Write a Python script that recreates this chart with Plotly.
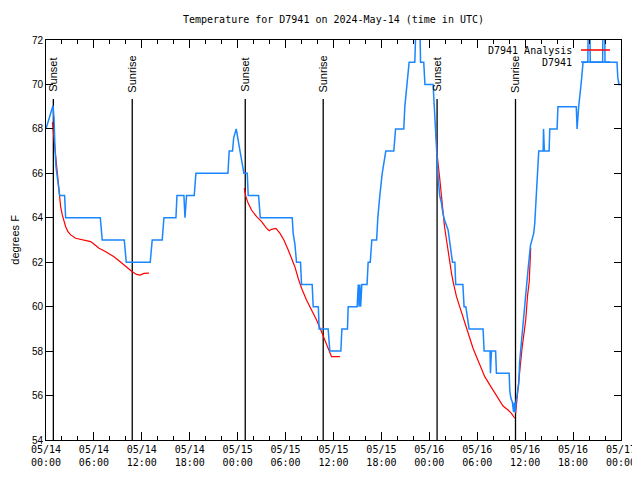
import pandas as pd
import plotly.graph_objects as go

# ---------------- data ----------------
start = pd.Timestamp("2024-05-14 00:00")

# D7941 observations: hours after start, temperature (F)
obs_hours = [0.00, 0.25, 0.50, 0.75, 0.88, 1.00, 1.03, 1.13, 1.25, 1.42, 1.58, 1.71, 2.33, 2.46,
             6.80, 7.04, 9.80, 10.05, 13.05, 13.30, 14.55, 14.77, 16.27, 16.40, 17.27, 17.40, 17.60,
             18.56, 18.77, 22.78, 22.94, 23.36, 23.50, 23.82, 24.10, 24.28, 24.45, 24.78, 25.20, 25.32,
             26.62, 26.83, 30.83, 30.95, 31.17, 31.37, 31.87, 32.00, 33.33, 33.46, 34.10, 34.20,
             35.33, 35.54, 36.92, 37.05, 37.75, 37.84, 38.96, 39.10, 39.20, 39.30, 39.40, 39.55,
             40.20, 40.34, 40.60, 40.80, 41.40, 41.55, 41.80, 42.10, 42.55, 43.55, 43.77, 44.80,
             44.93, 45.18, 45.47, 46.18, 46.35, 46.80, 46.90, 47.30, 47.45, 48.47, 48.70, 48.80,
             48.90, 49.10, 49.30, 49.50, 49.70, 49.90, 50.35, 50.50, 50.70, 50.90, 51.20, 51.30,
             52.20, 52.35, 52.57, 52.80, 52.98, 54.73, 54.86, 55.60, 55.65, 55.78, 56.30, 56.40,
             58.00, 58.07, 58.20, 58.40, 58.55, 58.65, 58.75, 58.85, 59.00, 59.20, 59.30, 59.60,
             59.80, 60.10, 60.24, 60.37, 60.66, 60.87, 61.07, 61.20, 61.33, 61.45, 61.60, 61.70,
             62.25, 62.30, 62.40, 63.00, 63.08, 64.00, 64.10, 66.40, 66.50, 66.70, 67.00, 67.25,
             67.85, 67.90, 68.10, 68.15, 69.70, 69.75, 69.95, 70.00, 71.50, 71.60, 71.75, 72.00]
obs_temps = [68.0, 68.3, 68.6, 68.9, 69.05, 68.5, 67.8, 67.1, 66.3, 65.7, 65.25, 65.0, 65.0, 64.0,
             64.0, 63.0, 63.0, 62.0, 62.0, 63.0, 63.0, 64.0, 64.0, 65.0, 65.0, 64.0, 65.0,
             65.0, 66.0, 66.0, 67.0, 67.0, 67.6, 68.0, 67.4, 67.0, 66.6, 66.0, 66.0, 65.0,
             65.0, 64.0, 64.0, 63.3, 62.8, 62.0, 62.0, 61.0, 61.0, 60.0, 60.0, 59.0,
             59.0, 58.0, 58.0, 59.0, 59.0, 60.0, 60.0, 61.0, 60.0, 61.0, 60.0, 61.0,
             61.0, 62.0, 62.0, 63.0, 63.0, 64.0, 65.0, 66.0, 67.0, 67.0, 68.0, 68.0,
             69.0, 70.0, 71.0, 71.0, 73.0, 73.0, 71.0, 71.0, 70.0, 70.0, 68.55, 67.8,
             66.75, 65.8, 65.0, 64.7, 64.2, 63.9, 63.45, 63.0, 62.5, 62.0, 62.0, 61.0,
             61.0, 60.0, 60.0, 59.3, 59.0, 59.0, 58.0, 58.0, 57.0, 58.0, 58.0, 57.0,
             57.0, 56.25, 55.9, 55.7, 55.25, 55.7, 55.25, 55.7, 56.0, 56.55, 57.5, 58.7,
             59.7, 60.6, 61.3, 61.7, 62.75, 63.0, 63.3, 63.75, 64.6, 65.2, 66.0, 67.0,
             67.0, 68.0, 67.0, 67.0, 68.0, 68.0, 69.0, 69.0, 68.0, 69.0, 70.0, 71.0,
             71.0, 73.0, 73.0, 71.0, 71.0, 73.0, 73.0, 71.0, 71.0, 70.3, 70.0, 70.0]

# D7941 Analysis: four night-time segments
ana1_hours = [0.80, 1.00, 1.20, 1.42, 1.63, 1.83, 2.04, 2.25, 2.46, 2.75, 3.09, 3.71, 4.34, 4.96,
              5.59, 6.00, 6.63, 7.26, 7.88, 8.51, 9.14, 9.76, 10.39, 10.80, 11.35, 11.76, 12.27, 12.89]
ana1_temps = [68.3, 67.5, 66.75, 65.85, 65.1, 64.5, 64.13, 63.83, 63.6, 63.38, 63.23, 63.08, 63.03, 63.0,
              62.93, 62.82, 62.63, 62.52, 62.4, 62.25, 62.07, 61.88, 61.68, 61.57, 61.45, 61.42, 61.5, 61.51]
ana2_hours = [24.82, 25.03, 25.32, 25.74, 26.37, 27.00, 27.53, 27.95, 28.25, 28.79, 29.30, 29.79, 30.33,
              30.75, 31.16, 31.58, 32.00, 32.62, 33.25, 33.88, 34.50, 35.13, 35.54, 35.75, 36.80]
ana2_temps = [65.33, 64.95, 64.65, 64.35, 64.05, 63.83, 63.57, 63.42, 63.48, 63.52, 63.3, 63.0, 62.55,
              62.18, 61.8, 61.28, 60.83, 60.3, 59.85, 59.4, 58.87, 58.27, 57.9, 57.75, 57.75]
ana3_hours = [48.85, 49.00, 49.30, 49.50, 49.70, 49.90, 50.15, 50.35, 50.56, 50.78, 50.98, 51.19, 51.40,
              51.80, 52.23, 52.65, 53.07, 53.48, 53.90, 54.32, 54.94, 55.57, 56.20, 56.82, 57.23, 57.86,
              58.28, 58.70]
ana3_temps = [67.8, 66.75, 65.78, 64.95, 64.35, 63.6, 63.0, 62.47, 61.95, 61.5, 61.12, 60.75, 60.45,
              60.0, 59.55, 59.1, 58.58, 58.12, 57.75, 57.38, 56.85, 56.48, 56.1, 55.72, 55.53, 55.35,
              55.2, 54.98]
ana4_hours = [58.80, 59.05, 59.20, 59.60, 59.80, 60.07, 60.30, 60.50, 60.70]
ana4_temps = [55.2, 56.1, 56.85, 58.1, 58.65, 59.4, 60.5, 61.1, 62.65]

# sun events (hours after start)
sun_labels = ["Sunset", "Sunrise", "Sunset", "Sunrise", "Sunset", "Sunrise"]
sun_hours = [0.92, 10.80, 24.95, 34.71, 48.97, 58.79]

y_ticks = [54, 56, 58, 60, 62, 64, 66, 68, 70, 72]
x_tick_hours = [0, 6, 12, 18, 24, 30, 36, 42, 48, 54, 60, 66, 72]

title_text = "Temperature for D7941 on 2024-May-14 (time in UTC)"
series_names = ["D7941 Analysis", "D7941"]
colors = ["#ff0000", "#1a86ff"]

# ---------------- build ----------------
def to_time(hours):
    return [None if h is None else start + pd.Timedelta(hours=h) for h in hours]

ana_h, ana_t = [], []
for hs, ts in [(ana1_hours, ana1_temps), (ana2_hours, ana2_temps),
               (ana3_hours, ana3_temps), (ana4_hours, ana4_temps)]:
    ana_h += hs + [None]
    ana_t += ts + [None]

mono = "DejaVu Sans Mono"
sans = "Liberation Sans"

# the page adds an 8px body margin, so the figure is 8px smaller than the window
W, H = 632, 472

fig = go.Figure()
fig.add_trace(go.Scatter(x=to_time(ana_h), y=ana_t, mode="lines", name=series_names[0],
                         line=dict(color=colors[0], width=1.2), connectgaps=False))
fig.add_trace(go.Scatter(x=to_time(obs_hours), y=obs_temps, mode="lines", name=series_names[1],
                         line=dict(color=colors[1], width=1.5)))

sun_times = to_time(sun_hours)
for t, lab in zip(sun_times, sun_labels):
    fig.add_shape(type="line", xref="x", yref="paper", x0=t, x1=t, y0=0, y1=0.8525,
                  line=dict(color="black", width=1.3), layer="below")
    fig.add_annotation(x=t, xref="x", y=0.914, yref="paper", text=lab, showarrow=False,
                       textangle=-90, xanchor="center", yanchor="middle",
                       font=dict(family=sans, size=11, color="black"))

# manual gnuplot-style key (text then sample)
key_rows = [0.975, 0.945]
for name, col, yy in zip(series_names, colors, key_rows):
    fig.add_annotation(x=0.9183, xref="paper", y=yy, yref="paper", text=name, showarrow=False,
                       xanchor="right", yanchor="middle", font=dict(family=mono, size=10, color="black"))
    fig.add_shape(type="line", xref="paper", yref="paper", x0=0.9304, x1=0.9809, y0=yy, y1=yy,
                  line=dict(color=col, width=1.5))

fig.add_annotation(x=-0.0545, xref="paper", y=0.5, yref="paper", text="degrees F", showarrow=False,
                   textangle=-90, xanchor="center", yanchor="middle",
                   font=dict(family=sans, size=11, color="black"))

x_tick_times = to_time(x_tick_hours)
x_tick_text = [t.strftime("%m/%d<br>%H:%M") for t in x_tick_times]

fig.update_layout(
    width=W, height=H, autosize=False,
    margin=dict(l=38, r=19, t=32, b=40, autoexpand=False),
    paper_bgcolor="white", plot_bgcolor="white",
    showlegend=False,
    title=dict(text=title_text, x=0.5, xref="paper", xanchor="center", y=1 - 11 / H,
               yanchor="middle", font=dict(family=mono, size=10, color="black"), automargin=False),
    xaxis=dict(range=[x_tick_times[0], x_tick_times[-1]], tickvals=x_tick_times, ticktext=x_tick_text,
               ticks="inside", ticklen=8, tickcolor="black", showline=True, linecolor="black",
               linewidth=1, mirror="ticks", showgrid=False, zeroline=False, automargin=False,
               tickfont=dict(family=mono, size=10, color="black"),
               minor=dict(dtick=2 * 3600000, ticks="inside", ticklen=4, tickcolor="black", showgrid=False)),
    yaxis=dict(range=[54, 72], tickvals=y_ticks, ticktext=[str(v) for v in y_ticks],
               ticks="inside", ticklen=7, tickcolor="black", showline=True, linecolor="black",
               linewidth=1, mirror="ticks", showgrid=False, zeroline=False, automargin=False,
               tickfont=dict(family=sans, size=10, color="black")),
)

fig.write_html("out.html")
